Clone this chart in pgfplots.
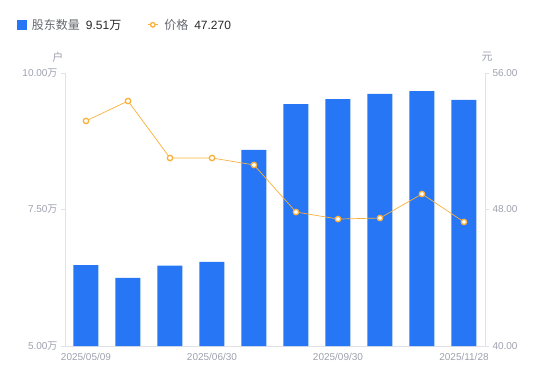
\documentclass[border=0pt]{standalone}
\usepackage{pgfplots}
\pgfplotsset{compat=1.18}
\usepackage{fontspec}
\setmainfont{Liberation Sans}
\newfontfamily\cjk{Noto Sans CJK SC}
\definecolor{barblue}{RGB}{39,118,245}
\definecolor{lineorange}{RGB}{250,176,58}
\definecolor{ticklab}{RGB}{158,161,174}
\definecolor{axisgray}{RGB}{224,226,232}
\definecolor{legname}{RGB}{102,104,112}
\definecolor{legval}{RGB}{40,40,40}
\begin{document}
\begin{tikzpicture}
\path[use as bounding box] (0,0) rectangle (550pt,381pt);
\pgfplotsset{
  common/.style={
    at={(65pt,35pt)}, anchor=south west,
    scale only axis, width=420pt, height=273pt,
    xmin=-0.5, xmax=9.5,
    axis line style={draw=axisgray, line width=0.8pt, -},
    tick style={draw=axisgray, line width=0.8pt},
    tick align=outside, major tick length=4pt,
    ticklabel style={font=\fontsize{10}{12}\selectfont, text=ticklab},
    /pgf/number format/assume math mode=true,
  }
}
\begin{axis}[common,
  axis x line*=bottom, axis y line*=left,
  ymin=5, ymax=10,
  ytick={5,7.5,10},
  yticklabels={5.00{\cjk 万},7.50{\cjk 万},10.00{\cjk 万}},
  xtick={0,3,6,9},
  xticklabels={2025/05/09,2025/06/30,2025/09/30,2025/11/28},
  xtick style={draw=none},
  ylabel={\cjk 户},
  ylabel style={rotate=-90, at={(axis description cs:-0.0167,1.0586)}, anchor=center, font=\fontsize{11}{13}\selectfont, text=ticklab},
]
\addplot[ybar, bar width=25pt, fill=barblue, draw=none] coordinates {
(0,6.48) (1,6.25) (2,6.47) (3,6.54) (4,8.59) (5,9.43) (6,9.52) (7,9.62) (8,9.67) (9,9.51)};
\end{axis}
\begin{axis}[common,
  axis x line=none, axis y line*=right,
  ymin=40, ymax=56,
  ytick={40,48,56},
  yticklabels={40.00,48.00,56.00},
  ylabel={\cjk 元},
  ylabel style={rotate=-90, at={(axis description cs:1.005,1.0586)}, anchor=center, font=\fontsize{11}{13}\selectfont, text=ticklab},
  legend columns=2,
  legend style={draw=none, fill=none, inner sep=0pt, outer sep=0pt,
    at={(axis description cs:-0.114,1.1766)}, anchor=west,
    font=\fontsize{12}{14}\selectfont, text=legname,
    /tikz/every odd column/.style={column sep=4pt},
    /tikz/every even column/.style={column sep=24pt}},
]
\addlegendimage{legend image code/.code={\fill[barblue] (0pt,-4.2pt) rectangle (8.4pt,4.2pt);}}
\addlegendentry{{\cjk 股东数量}\hspace{6pt}\textcolor{legval}{9.51{\cjk 万}}}
\addplot[lineorange, line width=0.7pt, mark=*, mark size=2.7pt,
  mark options={fill=white, draw=lineorange, line width=1.3pt},
  legend image code/.code={\draw[lineorange, line width=1pt] (0pt,0pt) -- (10pt,0pt); \draw[lineorange, line width=1.3pt, fill=white] (5pt,0pt) circle (2.3pt);}]
 coordinates {
(0,53.19) (1,54.36) (2,51.02) (3,51.02) (4,50.61) (5,47.85) (6,47.44) (7,47.50) (8,48.91) (9,47.27)};
\addlegendentry{{\cjk 价格}\hspace{6pt}\textcolor{legval}{47.270}}
\end{axis}
\end{tikzpicture}
\end{document}
